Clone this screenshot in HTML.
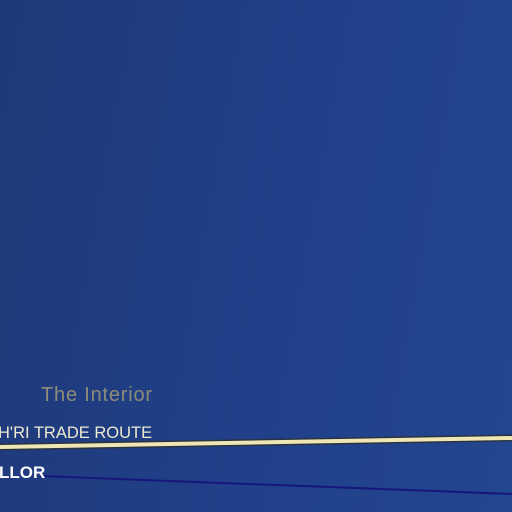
<!DOCTYPE html>
<html><head><meta charset="utf-8"><style>
html,body{margin:0;padding:0;width:512px;height:512px;overflow:hidden}
#map{position:relative;width:512px;height:512px;background:linear-gradient(100deg,#1f3a79 0%,#21408a 55%,#22468f 100%)}
.lbl{position:absolute;font-family:"Liberation Sans","DejaVu Sans",sans-serif;white-space:nowrap}
</style></head><body>
<div id="map">
<svg width="512" height="512" style="position:absolute;left:0;top:0">
  <line x1="0" y1="447" x2="512" y2="438" stroke="#2a3340" stroke-width="7"/>
  <line x1="0" y1="447" x2="512" y2="438" stroke="#efe6b6" stroke-width="4"/>
  <line x1="40" y1="476" x2="512" y2="494" stroke="#15177a" stroke-width="2"/>
</svg>
<div class="lbl" style="left:41px;top:384px;font-size:20px;letter-spacing:0.8px;color:#8e8c78">The Interior</div>
<div class="lbl" style="left:-2px;top:424px;font-size:16.5px;color:#ecebd0">H'RI TRADE ROUTE</div>
<div class="lbl" style="left:-1px;top:463px;font-size:17px;font-weight:bold;color:#ffffff">LLOR</div>
</div>
</body></html>
